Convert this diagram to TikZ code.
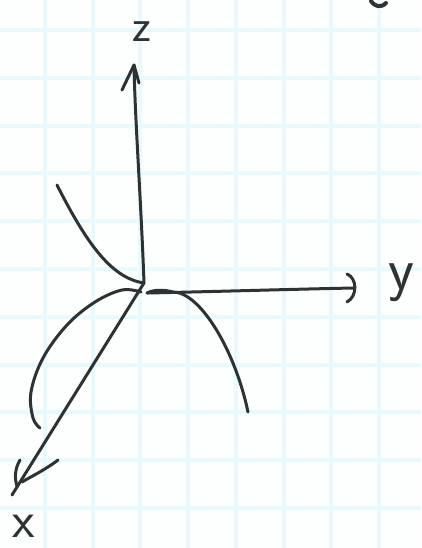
\documentclass[tikz,border=0pt]{standalone}
\definecolor{ink}{RGB}{45,50,50}
\definecolor{gridc}{RGB}{232,250,251}
\definecolor{paper}{RGB}{253,255,255}
\tikzset{
  gridline/.style={gridc, line width=4pt},
  pen/.style={ink, line width=3pt, line cap=round, line join=round},
  lbl/.style={ink, inner sep=0pt, font=\sffamily},
}
\begin{document}
\begin{tikzpicture}[x=1pt,y=-1pt]
\fill[paper] (0,0) rectangle (421,548);
\useasboundingbox (0,0) rectangle (421,548);
% grid paper
\foreach \gx in {45,92.7,140.4,188.1,235.8,283.5,331.2,378.9}
  \draw[gridline] (\gx,0) -- (\gx,548);
\foreach \gy in {30,77.8,125.6,173.4,221.2,269,316.8,364.6,412.4,460.2,508}
  \draw[gridline] (0,\gy) -- (421,\gy);

% key points
\coordinate (O) at (144,283);
\coordinate (ztip) at (134,65);
\coordinate (ystart) at (147,293);
\coordinate (ytip) at (354,288);
\coordinate (xtip) at (12,495);

% axes
\draw[pen] (O) .. controls (141,200) and (135,120) .. (ztip);
\draw[pen] (122,90) -- (ztip) -- (139,83);
\draw[pen] (ystart) .. controls (200,292) and (300,289) .. (ytip);
\draw[pen] (347,274) .. controls (357,278) and (358,296) .. (347,302);
\draw[pen] (O) -- (xtip);
\draw[pen] (20,460) .. controls (14,470) and (15,480) .. (17,486);
\draw[pen] (58,460) .. controls (45,470) and (32,476) .. (22,482);

% curves
\draw[pen] (57,185) .. controls (85,240) and (110,278) .. (O);
\draw[pen] (ystart) .. controls (155,289) and (165,290) .. (173,292)
  .. controls (200,292) and (235,350) .. (248,412);
\draw[pen] plot[smooth, tension=0.6] coordinates
  {(141,292) (122,290) (95,302) (67,325) (43,358) (31,392) (33,418) (40,428)};

% fragment at top right
\draw[pen, line width=4pt] (371,1) .. controls (375,7) and (381,8) .. (386,3);

% labels
\node[lbl, font=\sffamily\fontsize{46}{46}\selectfont, anchor=base] (zl) at (142,42) {z};
\node[lbl, font=\sffamily\fontsize{60}{60}\selectfont] (yl) at (401,283) {y};
\node[lbl, font=\sffamily\fontsize{52}{52}\selectfont] (xl) at (24,526) {x};
\end{tikzpicture}
\end{document}
